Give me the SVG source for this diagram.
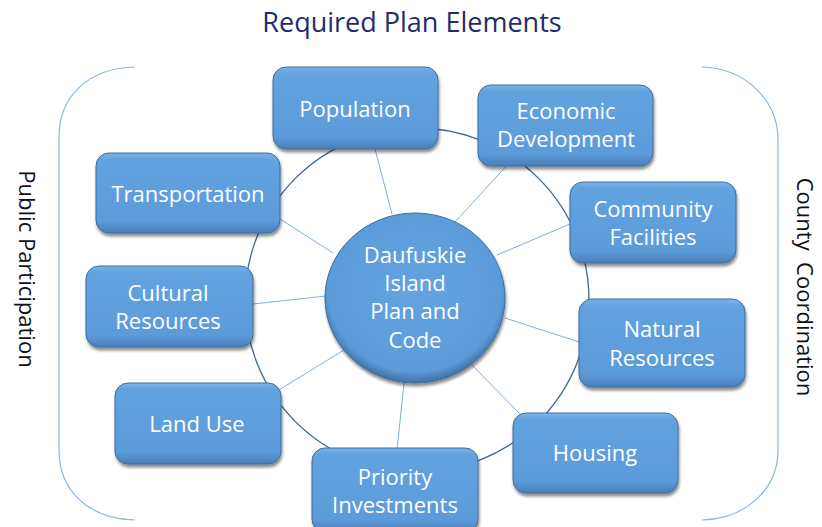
<svg xmlns="http://www.w3.org/2000/svg" width="822" height="527" viewBox="0 0 822 527">
<defs>
<linearGradient id="boxg" x1="0" y1="0" x2="0" y2="1">
<stop offset="0" stop-color="#7db4e8"/>
<stop offset="0.08" stop-color="#62a2df"/>
<stop offset="0.85" stop-color="#5c9bda"/>
<stop offset="1" stop-color="#4a7fb8"/>
</linearGradient>
<radialGradient id="circg" cx="0.5" cy="0.45" r="0.55">
<stop offset="0" stop-color="#64a3e0"/>
<stop offset="0.88" stop-color="#5c9bda"/>
<stop offset="1" stop-color="#3f6fa3"/>
</radialGradient>
<filter id="sh" x="-10%" y="-10%" width="125%" height="130%">
<feDropShadow dx="1" dy="3" stdDeviation="1.8" flood-color="#000" flood-opacity="0.45"/>
</filter>
</defs>
<style>
.box{fill:url(#boxg);stroke:#3e6d9c;stroke-width:1;filter:url(#sh)}
.lbl{font-family:"Open Sans","Noto Sans",sans-serif;font-size:22px;fill:#ffffff;text-anchor:middle}
.spoke{stroke:#7eaee0;stroke-width:1;fill:none}
.ring{stroke:#3b6594;stroke-width:1.3;fill:none}
.brk{stroke:#8ab6e6;stroke-width:1.2;fill:none}
.side{font-family:"Open Sans","Noto Sans",sans-serif;font-size:22px;fill:#111;text-anchor:middle}
</style>
<rect width="822" height="527" fill="#fff"/>
<text x="412" y="32" style="font-family:'Open Sans','Noto Sans',sans-serif;font-size:27px;fill:#1f2d6b;text-anchor:middle">Required Plan Elements</text>
<g id="brackets">
<path class="brk" d="M135,67 C90,68 59,95 59,137 L59,450 C59,492 90,519 135,520"/>
<path class="brk" d="M702,67 C745,68 778,100 778,140 L778,450 C778,490 745,519 702,520"/>
</g>
<text class="side" transform="translate(19,269) rotate(90)">Public Participation</text>
<text class="side" transform="translate(797,287) rotate(90)" xml:space="preserve">County  Coordination</text>
<g id="connectors">
<circle class="ring" cx="417" cy="300" r="172"/>
<line class="spoke" x1="375" y1="149" x2="392" y2="214"/>
<line class="spoke" x1="510" y1="162" x2="455" y2="222"/>
<line class="spoke" x1="570" y1="224" x2="497" y2="255"/>
<line class="spoke" x1="505" y1="318" x2="579" y2="342"/>
<line class="spoke" x1="253" y1="304" x2="326" y2="296"/>
<line class="spoke" x1="280" y1="219" x2="333" y2="253"/>
<line class="spoke" x1="344" y1="350" x2="279" y2="390"/>
<line class="spoke" x1="404" y1="383" x2="397" y2="450"/>
<line class="spoke" x1="467" y1="360" x2="522" y2="416"/>
</g>
<g id="center">
<ellipse cx="415" cy="298" rx="90" ry="85" fill="url(#circg)" stroke="#3e6d9c" stroke-width="1" filter="url(#sh)"/>
<text class="lbl" x="415" y="263">Daufuskie</text>
<text class="lbl" x="415" y="291">Island</text>
<text class="lbl" x="415" y="319">Plan and</text>
<text class="lbl" x="415" y="348">Code</text>
</g>
<g id="population"><rect class="box" x="273" y="67" width="165" height="82" rx="13"/><text class="lbl" x="355" y="117">Population</text></g>
<g id="economic"><rect class="box" x="478" y="85" width="175" height="81" rx="13"/><text class="lbl" x="566" y="119">Economic</text><text class="lbl" x="566" y="147">Development</text></g>
<g id="transportation"><rect class="box" x="96" y="153" width="184" height="80" rx="13"/><text class="lbl" x="188" y="202">Transportation</text></g>
<g id="community"><rect class="box" x="570" y="182" width="166" height="81" rx="13"/><text class="lbl" x="653" y="217">Community</text><text class="lbl" x="653" y="245">Facilities</text></g>
<g id="cultural"><rect class="box" x="86" y="266" width="167" height="81" rx="13"/><text class="lbl" x="168" y="301">Cultural</text><text class="lbl" x="168" y="329">Resources</text></g>
<g id="natural"><rect class="box" x="579" y="299" width="166" height="88" rx="13"/><text class="lbl" x="662" y="337">Natural</text><text class="lbl" x="662" y="366">Resources</text></g>
<g id="landuse"><rect class="box" x="115" y="383" width="166" height="81" rx="13"/><text class="lbl" x="197" y="432">Land Use</text></g>
<g id="housing"><rect class="box" x="513" y="413" width="165" height="80" rx="13"/><text class="lbl" x="595" y="461">Housing</text></g>
<g id="priority"><rect class="box" x="312" y="448" width="166" height="84" rx="13"/><text class="lbl" x="395" y="485">Priority</text><text class="lbl" x="395" y="513">Investments</text></g>
</svg>
